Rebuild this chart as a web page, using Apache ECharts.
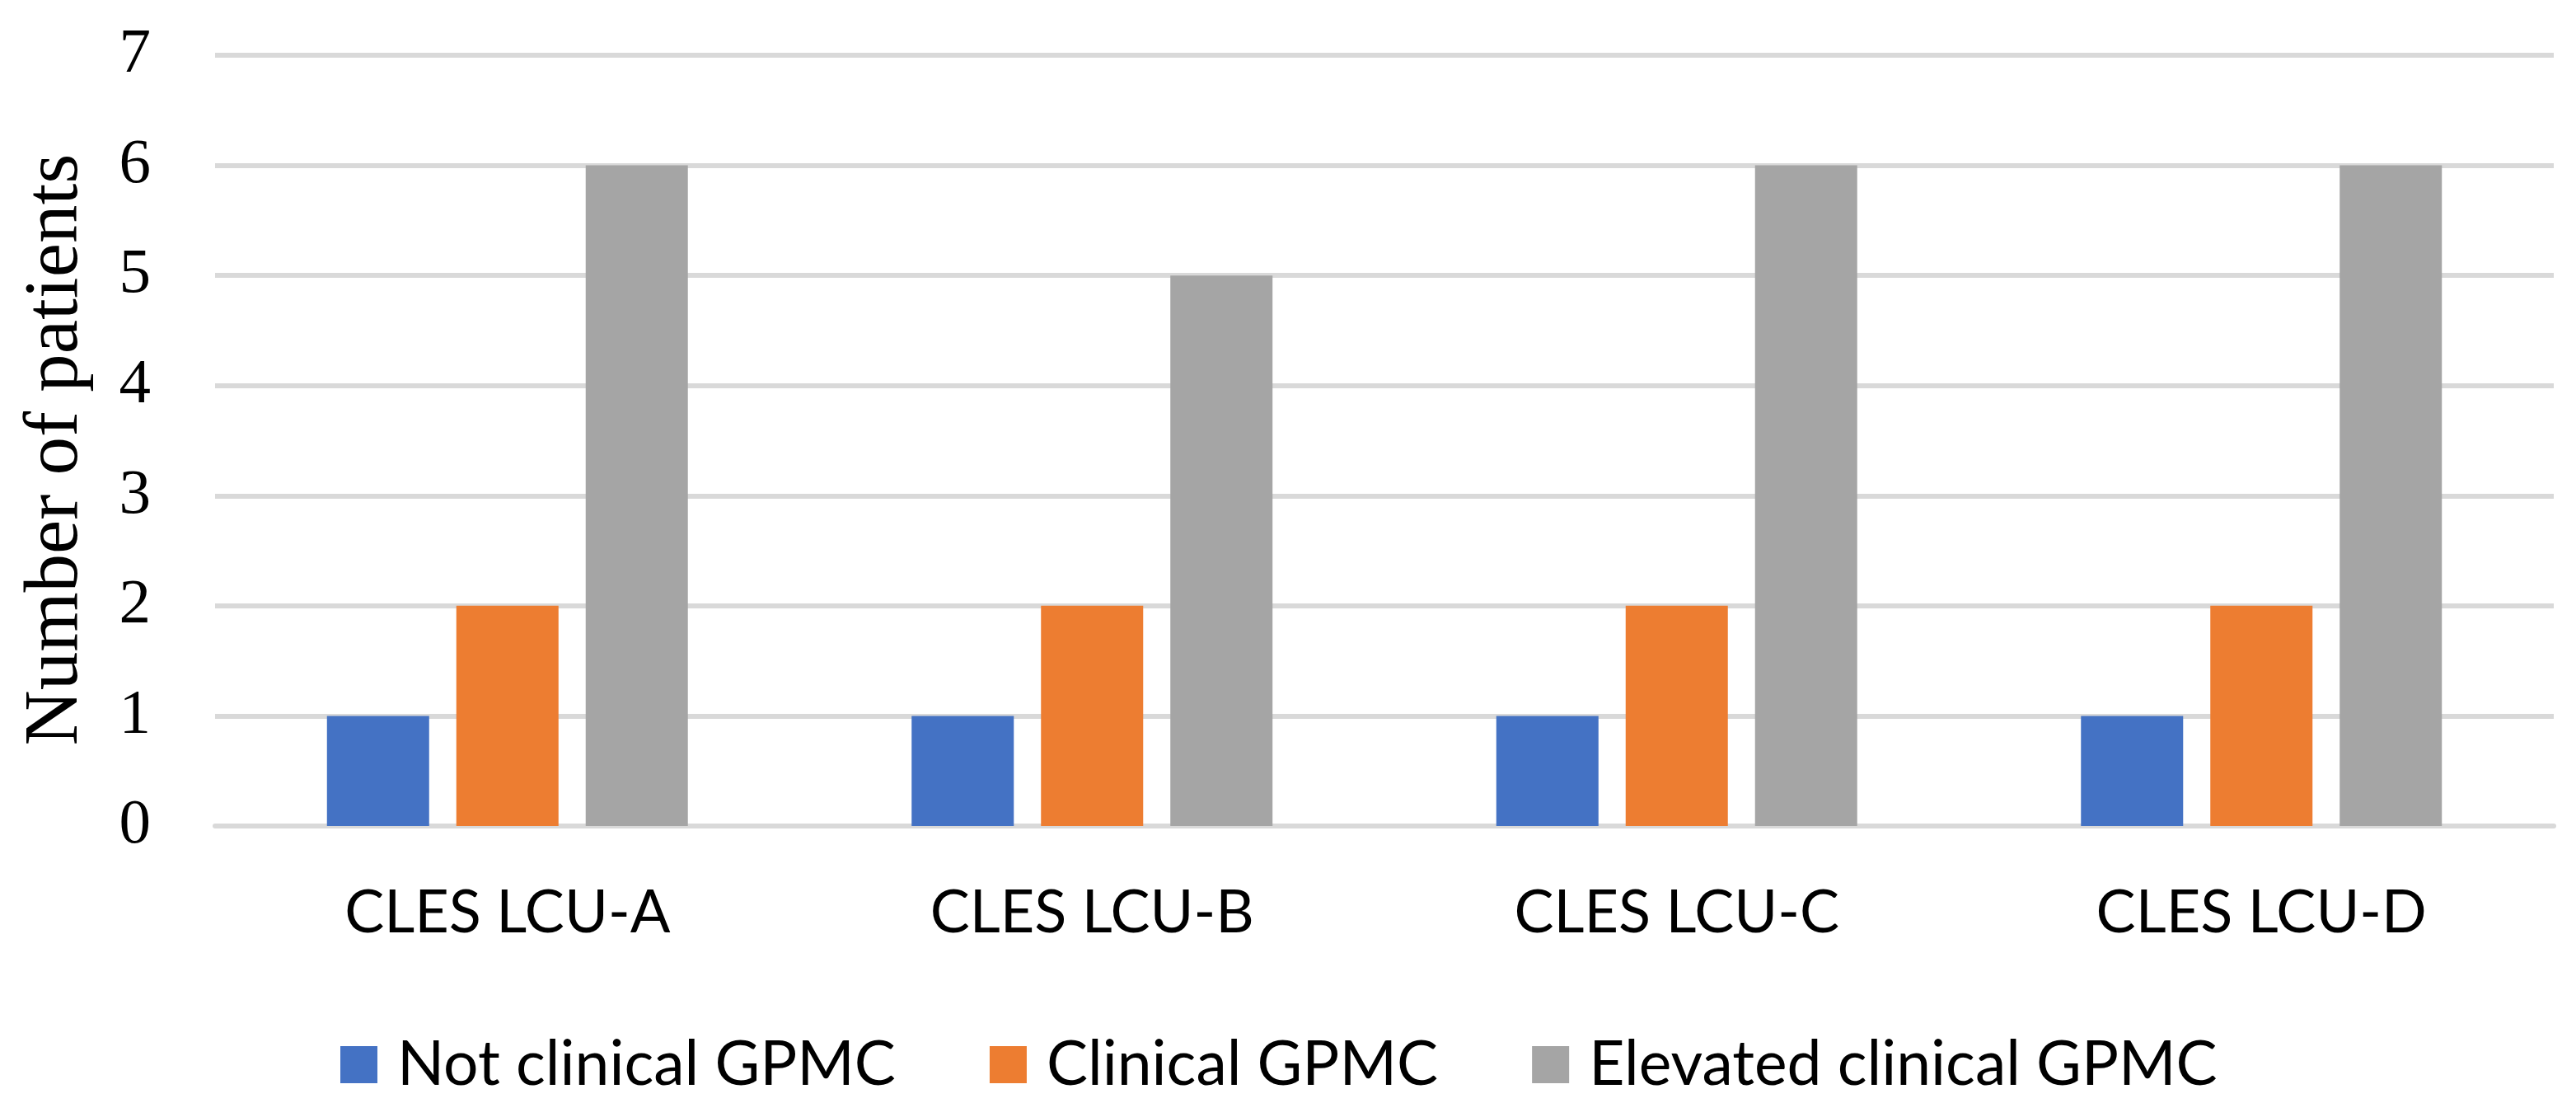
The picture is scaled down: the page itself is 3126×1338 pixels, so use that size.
<!DOCTYPE html>
<html>
<head>
<meta charset="utf-8">
<script src="https://cdn.jsdelivr.net/npm/echarts@6/dist/echarts.min.js"></script>
<style>
html,body{margin:0;padding:0;background:#fff;}
#chart{width:3126px;height:1338px;}
</style>
</head>
<body>
<div id="chart"></div>
<script>
var categories = ['CLES LCU-A', 'CLES LCU-B', 'CLES LCU-C', 'CLES LCU-D'];
var seriesNames = ['Not clinical GPMC', 'Clinical GPMC', 'Elevated clinical GPMC'];
var notClinical = [1, 1, 1, 1];
var clinical = [2, 2, 2, 2];
var elevatedClinical = [6, 5, 6, 6];
var yTicks = [0, 1, 2, 3, 4, 5, 6, 7];
var colors = ['#4472C4', '#ED7D31', '#A5A5A5'];

var chart = echarts.init(document.getElementById('chart'), null, {renderer: 'canvas'});
var seriesData = [notClinical, clinical, elevatedClinical];
var series = seriesNames.map(function (n, i) {
  return {
    name: n,
    type: 'bar',
    data: seriesData[i],
    barWidth: 124,
    barGap: '26.6%',
    itemStyle: {color: colors[i]}
  };
});
chart.setOption({
  animation: false,
  color: colors,
  grid: {left: 261, right: 27, top: 67, bottom: 336, containLabel: false},
  legend: {
    data: seriesNames,
    left: 408,
    top: 1249,
    icon: 'rect',
    itemWidth: 45,
    itemHeight: 45,
    itemGap: 114,
    textStyle: {fontFamily: 'Lato', fontSize: 75, color: '#000', padding: [0, 0, 0, 19]}
  },
  xAxis: {
    type: 'category',
    data: categories,
    axisLine: {show: true, lineStyle: {color: '#D9D9D9', width: 6}},
    axisTick: {show: false},
    axisLabel: {fontFamily: 'Lato', fontSize: 72, color: '#000', margin: 70}
  },
  yAxis: {
    type: 'value',
    min: yTicks[0],
    max: yTicks[yTicks.length - 1],
    interval: 1,
    name: 'Number of patients',
    nameLocation: 'middle',
    nameGap: 146,
    nameRotate: 90,
    nameTextStyle: {fontFamily: 'Liberation Serif', fontSize: 93, color: '#000', padding: [0, 22, 0, 0]},
    axisLine: {show: false},
    axisTick: {show: false},
    splitLine: {lineStyle: {color: '#D9D9D9', width: 6}},
    axisLabel: {fontFamily: 'Liberation Serif', fontSize: 77, color: '#000', margin: 78, padding: [0, 0, 6, 0]}
  },
  series: series
});
</script>
</body>
</html>
